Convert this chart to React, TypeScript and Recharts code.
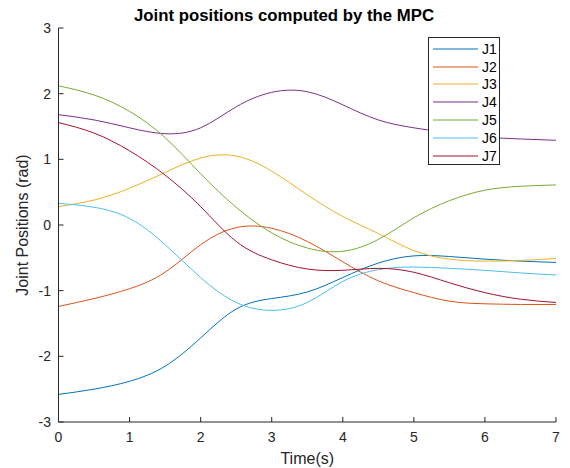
import React from 'react';
import { LineChart, Line, XAxis, YAxis, Legend, Label } from 'recharts';

// time samples (s)
const time = [0, 0.5, 1, 1.5, 2, 2.5, 3, 3.5, 4, 4.5, 5, 5.5, 6, 6.5, 7];

// joint positions (rad)
const j1 = [-2.58, -2.5, -2.38, -2.15, -1.72, -1.28, -1.12, -1.02, -0.8, -0.58, -0.47, -0.48, -0.52, -0.55, -0.57];
const j2 = [-1.24, -1.12, -0.97, -0.72, -0.3, -0.04, -0.05, -0.25, -0.56, -0.85, -1.03, -1.16, -1.2, -1.21, -1.21];
const j3 = [0.28, 0.38, 0.56, 0.8, 1.02, 1.05, 0.82, 0.46, 0.13, -0.13, -0.39, -0.52, -0.55, -0.54, -0.51];
const j4 = [1.68, 1.6, 1.48, 1.39, 1.48, 1.8, 2.02, 2.03, 1.83, 1.6, 1.48, 1.4, 1.34, 1.31, 1.29];
const j5 = [2.12, 1.98, 1.73, 1.33, 0.78, 0.27, -0.12, -0.35, -0.4, -0.22, 0.11, 0.37, 0.53, 0.59, 0.61];
const j6 = [0.33, 0.27, 0.1, -0.3, -0.8, -1.18, -1.3, -1.18, -0.86, -0.68, -0.64, -0.66, -0.69, -0.73, -0.76];
const j7 = [1.56, 1.4, 1.13, 0.76, 0.28, -0.25, -0.53, -0.67, -0.69, -0.66, -0.72, -0.88, -1.03, -1.13, -1.18];

const xTicks = [0, 1, 2, 3, 4, 5, 6, 7];
const yTicks = [-3, -2, -1, 0, 1, 2, 3];

const series = [
  { key: 'J1', values: j1, color: '#0072BD' },
  { key: 'J2', values: j2, color: '#D95319' },
  { key: 'J3', values: j3, color: '#EDB120' },
  { key: 'J4', values: j4, color: '#7E2F8E' },
  { key: 'J5', values: j5, color: '#77AC30' },
  { key: 'J6', values: j6, color: '#4DBEEE' },
  { key: 'J7', values: j7, color: '#A2142F' },
];

const data = time.map((t, i) => {
  const row: Record<string, number> = { t };
  series.forEach((s) => {
    row[s.key] = s.values[i];
  });
  return row;
});

const axisColor = '#262626';
const font = '"Liberation Sans", Arial, Helvetica, sans-serif';

const LegendBox = () => (
  <div
    style={{
      width: 72,
      height: 128,
      border: '1px solid #262626',
      background: '#fff',
      boxSizing: 'border-box',
      paddingTop: 2,
      fontFamily: font,
      fontSize: 14,
      color: '#000',
    }}
  >
    {series.map((s) => (
      <div key={s.key} style={{ display: 'flex', alignItems: 'center', height: 17.8 }}>
        <svg width={53} height={4} style={{ display: 'block' }}>
          <line x1={4} x2={49} y1={2} y2={2} stroke={s.color} strokeWidth={1} />
        </svg>
        <span>{s.key}</span>
      </div>
    ))}
  </div>
);

const App: React.FC = () => {
  return (
    <div style={{ position: 'absolute', left: 0, top: 0, width: 570, height: 468, background: '#fff' }}>
      <LineChart
        width={570}
        height={468}
        data={data}
        margin={{ top: 28, right: 14, bottom: 0, left: 0 }}
        style={{ fontFamily: font }}
      >
        <text
          x={284}
          y={21}
          textAnchor="middle"
          fontSize={16.8}
          fontWeight="bold"
          fill="#000"
          fontFamily={font}
        >
          Joint positions computed by the MPC
        </text>
        <XAxis
          dataKey="t"
          type="number"
          domain={[0, 7]}
          ticks={xTicks}
          height={46}
          tickSize={-5}
          tickMargin={15}
          stroke={axisColor}
          tick={{ fill: axisColor, fontSize: 14 }}
          allowDataOverflow
        >
          <Label value="Time(s)" position="insideBottom" offset={4} fill={axisColor} fontSize={16} />
        </XAxis>
        <XAxis
          xAxisId="top"
          orientation="top"
          dataKey="t"
          type="number"
          domain={[0, 7]}
          ticks={xTicks}
          height={0}
          tickSize={-5}
          tick={false}
          stroke={axisColor}
          allowDataOverflow
        />
        <YAxis
          type="number"
          domain={[-3, 3]}
          ticks={yTicks}
          width={58.5}
          tickSize={-5}
          tickMargin={12.5}
          stroke={axisColor}
          tick={{ fill: axisColor, fontSize: 14 }}
          allowDataOverflow
        >
          <Label
            value="Joint Positions (rad)"
            angle={-90}
            position="insideLeft"
            offset={22.5}
            fill={axisColor}
            fontSize={16}
            style={{ textAnchor: 'middle' }}
          />
        </YAxis>
        <YAxis
          yAxisId="right"
          orientation="right"
          type="number"
          domain={[-3, 3]}
          ticks={yTicks}
          width={0}
          tickSize={-5}
          tick={false}
          stroke={axisColor}
          allowDataOverflow
        />
        {series.map((s) => (
          <Line
            key={s.key}
            type="natural"
            dataKey={s.key}
            stroke={s.color}
            strokeWidth={1}
            dot={false}
            activeDot={false}
            isAnimationActive={false}
          />
        ))}
        <Legend
          layout="vertical"
          align="center"
          verticalAlign="middle"
          content={() => <LegendBox />}
          wrapperStyle={{ position: 'absolute', left: 428, top: 37, width: 72, height: 128 }}
        />
      </LineChart>
    </div>
  );
};

export default App;
